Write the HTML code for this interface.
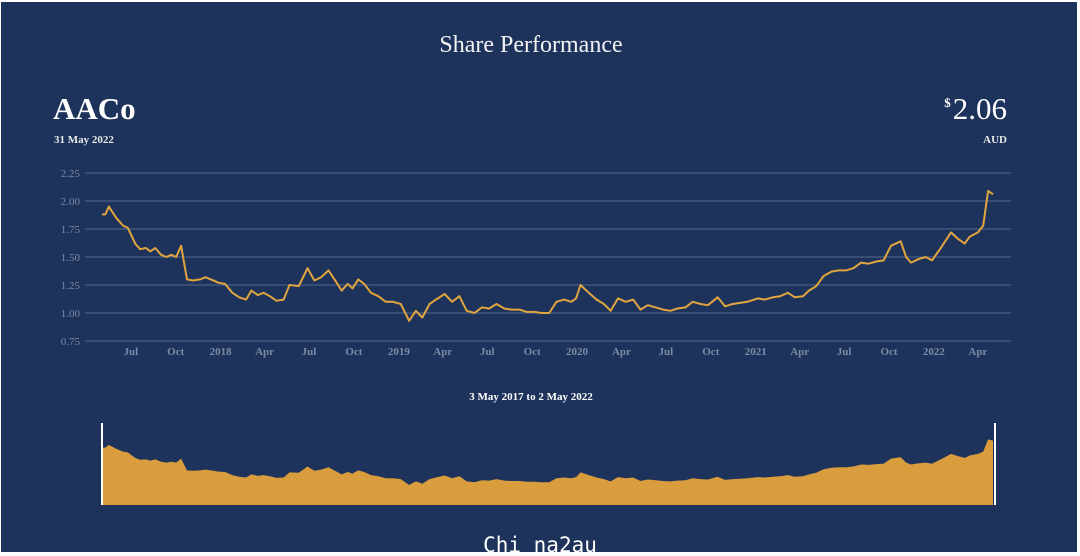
<!DOCTYPE html>
<html><head><meta charset="utf-8"><style>
html,body{margin:0;padding:0;background:#fff;}
#wrap{position:relative;width:1080px;height:556px;overflow:hidden;background:#fff;}
#panel{position:absolute;left:1px;top:2px;width:1076px;height:550px;background:#1e335b;}
svg{position:absolute;left:0;top:0;}
</style></head><body>
<div id="wrap">
<div id="panel"></div>
<svg id="svg" width="1080" height="556">
<text x="531" y="52" text-anchor="middle" fill="#f2f2f2" font-family="Liberation Serif, serif" font-size="24">Share Performance</text>
<text x="53" y="119" fill="#ffffff" font-family="Liberation Serif, serif" font-weight="bold" font-size="31">AACo</text>
<text x="54" y="143" fill="#e8e8e8" font-family="Liberation Serif, serif" font-weight="bold" font-size="11">31 May 2022</text>
<text x="1007" y="119" text-anchor="end" fill="#ffffff" font-family="Liberation Serif, serif" font-size="31"><tspan font-size="13" font-weight="bold" dy="-12">$</tspan><tspan dy="12" dx="2">2.06</tspan></text>
<text x="1007" y="143" text-anchor="end" fill="#e8e8e8" font-family="Liberation Serif, serif" font-weight="bold" font-size="11">AUD</text>
<text x="531" y="400" text-anchor="middle" fill="#ffffff" font-family="Liberation Serif, serif" font-weight="bold" font-size="11">3 May 2017 to 2 May 2022</text>
<g id="grid"></g><g id="xt"></g>
<path id="line" fill="none" stroke="#e0a53f" stroke-width="2" stroke-linejoin="round"/>
<path id="area" fill="#d99d3e"/>
<line x1="102" y1="423" x2="102" y2="505" stroke="#ffffff" stroke-width="2"/>
<line x1="995" y1="423" x2="995" y2="505" stroke="#ffffff" stroke-width="2"/>
<text x="540" y="552" text-anchor="middle" fill="#ffffff" font-family="DejaVu Sans Mono, monospace" font-size="21">Chi na2au</text>
</svg>
</div>
<script>
const yTicks=[0.75,1.00,1.25,1.50,1.75,2.00,2.25];
const xTickLabels=["Jul","Oct","2018","Apr","Jul","Oct","2019","Apr","Jul","Oct","2020","Apr","Jul","Oct","2021","Apr","Jul","Oct","2022","Apr"];
const xTickDates=["2017-07-01","2017-10-01","2018-01-01","2018-04-01","2018-07-01","2018-10-01","2019-01-01","2019-04-01","2019-07-01","2019-10-01","2020-01-01","2020-04-01","2020-07-01","2020-10-01","2021-01-01","2021-04-01","2021-07-01","2021-10-01","2022-01-01","2022-04-01"];
const dates=["2017-05-03","2017-05-10","2017-05-17","2017-06-01","2017-06-15","2017-06-25","2017-07-10","2017-07-20","2017-08-01","2017-08-10","2017-08-20","2017-09-01","2017-09-12","2017-09-22","2017-10-02","2017-10-12","2017-10-24","2017-11-05","2017-11-20","2017-12-01","2017-12-12","2017-12-28",
"2018-01-10","2018-01-25","2018-02-08","2018-02-22","2018-03-05","2018-03-18","2018-03-30","2018-04-12","2018-04-25","2018-05-10","2018-05-22","2018-06-10","2018-06-28","2018-07-12","2018-07-26","2018-08-10","2018-08-25","2018-09-06","2018-09-18","2018-09-28","2018-10-10","2018-10-22","2018-11-05","2018-11-20","2018-12-05","2018-12-20",
"2019-01-05","2019-01-22","2019-02-05","2019-02-18","2019-03-05","2019-03-18","2019-04-05","2019-04-20","2019-05-05","2019-05-20","2019-06-05","2019-06-20","2019-07-05","2019-07-20","2019-08-05","2019-08-20","2019-09-05","2019-09-20","2019-10-05","2019-10-20","2019-11-05","2019-11-20","2019-12-05","2019-12-20","2019-12-30",
"2020-01-08","2020-01-25","2020-02-10","2020-02-25","2020-03-10","2020-03-25","2020-04-10","2020-04-25","2020-05-10","2020-05-25","2020-06-10","2020-06-25","2020-07-10","2020-07-25","2020-08-10","2020-08-25","2020-09-10","2020-09-25","2020-10-15","2020-10-30","2020-11-15","2020-11-30","2020-12-15",
"2021-01-05","2021-01-20","2021-02-05","2021-02-20","2021-03-08","2021-03-22","2021-04-08","2021-04-20","2021-05-05","2021-05-20","2021-06-05","2021-06-20","2021-07-05","2021-07-20","2021-08-05","2021-08-20","2021-09-05","2021-09-20","2021-10-05","2021-10-25","2021-11-05","2021-11-15","2021-11-30","2021-12-15","2021-12-28",
"2022-01-15","2022-02-05","2022-02-20","2022-03-05","2022-03-15","2022-04-01","2022-04-12","2022-04-22","2022-05-02"];
const prices=[1.88,1.88,1.95,1.85,1.78,1.76,1.62,1.57,1.58,1.55,1.58,1.52,1.50,1.52,1.50,1.60,1.30,1.29,1.30,1.32,1.30,1.27,1.26,1.18,1.14,1.12,1.20,1.16,1.18,1.15,1.11,1.12,1.25,1.24,1.40,1.29,1.32,1.38,1.28,1.20,1.26,1.22,1.30,1.26,1.18,1.15,1.10,1.10,1.08,0.93,1.02,0.96,1.08,1.12,1.17,1.10,1.15,1.02,1.00,1.05,1.04,1.08,1.04,1.03,1.03,1.01,1.01,1.00,1.00,1.10,1.12,1.10,1.13,1.25,1.18,1.12,1.08,1.02,1.13,1.10,1.12,1.03,1.07,1.05,1.03,1.02,1.04,1.05,1.10,1.08,1.07,1.14,1.06,1.08,1.09,1.10,1.13,1.12,1.14,1.15,1.18,1.14,1.15,1.20,1.24,1.33,1.37,1.38,1.38,1.40,1.45,1.44,1.46,1.47,1.60,1.64,1.50,1.45,1.48,1.50,1.47,1.58,1.72,1.66,1.62,1.68,1.72,1.78,2.09,2.06];
const startDate="2017-05-03", endDate="2022-05-02";
const NS="http://www.w3.org/2000/svg";
const t0=Date.parse(startDate), t1=Date.parse(endDate);
const X0=102, X1=993;
function xDate(s){return X0+(Date.parse(s)-t0)/(t1-t0)*(X1-X0);}
function y(v){return 341-(v-0.75)/1.5*168;}
function y2(v){return 505-(v-0.42)/(2.1-0.42)*66;}
const grid=document.getElementById('grid');
yTicks.forEach(v=>{
 const l=document.createElementNS(NS,'line');
 l.setAttribute('x1',85);l.setAttribute('x2',1011);l.setAttribute('y1',y(v));l.setAttribute('y2',y(v));
 l.setAttribute('stroke','#53698f');l.setAttribute('stroke-width','1');
 
 
 grid.appendChild(l);
 const t=document.createElementNS(NS,'text');
 t.setAttribute('x',80);t.setAttribute('y',y(v)+4);t.setAttribute('text-anchor','end');
 t.setAttribute('fill','#7d8aa6');t.setAttribute('font-size','11');t.setAttribute('font-family','Liberation Serif, serif');
 t.textContent=v.toFixed(2);
 
 
 grid.appendChild(t);
});
const xt=document.getElementById('xt');
xTickLabels.forEach((lab,i)=>{
 const t=document.createElementNS(NS,'text');
 t.setAttribute('x',xDate(xTickDates[i]));t.setAttribute('y',355);t.setAttribute('text-anchor','middle');
 t.setAttribute('fill','#7d8aa6');t.setAttribute('font-size','11');t.setAttribute('font-weight','bold');t.setAttribute('font-family','Liberation Serif, serif');
 t.textContent=lab;
 
 
 xt.appendChild(t);
});
let d='';prices.forEach((v,i)=>{d+=(i?'L':'M')+xDate(dates[i]).toFixed(1)+','+y(v).toFixed(1);});
const line=document.getElementById('line');line.setAttribute('d',d);


let a='M'+X0+',505';prices.forEach((v,i)=>{a+='L'+xDate(dates[i]).toFixed(1)+','+y2(v).toFixed(1);});a+='L'+X1+',505Z';
const area=document.getElementById('area');area.setAttribute('d',a);


</script>
</body></html>
